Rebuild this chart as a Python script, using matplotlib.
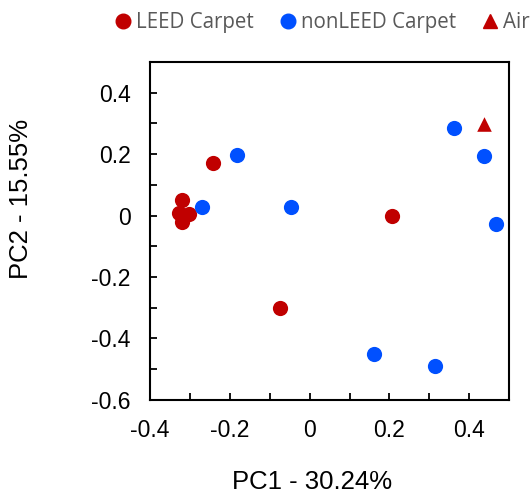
import matplotlib.pyplot as plt
from matplotlib.lines import Line2D

# PCA scores
leed_x = [-0.243, -0.321, -0.327, -0.302, -0.319, 0.207, -0.073]
leed_y = [0.172, 0.049, 0.009, 0.006, -0.022, -0.001, -0.301]

nonleed_x = [-0.269, -0.1825, -0.047, 0.363, 0.4375, 0.4675, 0.1625, 0.314]
nonleed_y = [0.027, 0.196, 0.027, 0.284, 0.195, -0.026, -0.452, -0.49]

air_x = [0.4375]
air_y = [0.299]

xticks = [-0.4, -0.2, 0, 0.2, 0.4]
yticks = [-0.6, -0.4, -0.2, 0, 0.2, 0.4]
xtick_labels = ['-0.4', '-0.2', '0', '0.2', '0.4']
ytick_labels = ['-0.6', '-0.4', '-0.2', '0', '0.2', '0.4']

red = '#C00000'
blue = '#0050FF'

plt.rcParams['font.family'] = ['Liberation Sans', 'DejaVu Sans']

fig = plt.figure(figsize=(5.32, 5.03), dpi=100)
ax = fig.add_axes([0.282, 0.205, 0.675, 0.672])

ax.scatter(leed_x, leed_y, s=120, c=red, linewidths=0, zorder=3)
ax.scatter(nonleed_x, nonleed_y, s=120, c=blue, linewidths=0, zorder=3)
ax.scatter(air_x, air_y, s=110, c=red, marker='^', linewidths=0, zorder=3)

ax.set_xlim(-0.4, 0.5)
ax.set_ylim(-0.6, 0.5)
ax.set_xticks(xticks)
ax.set_xticklabels(xtick_labels)
ax.set_yticks(yticks)
ax.set_yticklabels(ytick_labels)
ax.set_xticks([-0.3, -0.1, 0.1, 0.3], minor=True)
ax.set_yticks([-0.5, -0.3, -0.1, 0.1, 0.3], minor=True)
ax.tick_params(which='both', direction='in', length=5, width=1.3,
               labelsize=16.5, pad=14)
for sp in ax.spines.values():
    sp.set_linewidth(1.5)

ax.set_xlabel('PC1 - 30.24%', fontsize=18.5)
ax.set_ylabel('PC2 - 15.55%', fontsize=18.5)
ax.xaxis.set_label_coords(0.45, -0.208)
ax.yaxis.set_label_coords(-0.326, 0.595)

handles = [
    Line2D([], [], marker='o', color=red, linestyle='', markersize=10.5),
    Line2D([], [], marker='o', color=blue, linestyle='', markersize=10.5),
    Line2D([], [], marker='^', color=red, linestyle='', markersize=10.5),
]
fig.legend(handles, ['LEED Carpet', 'nonLEED Carpet', 'Air'], ncol=3,
           loc='center left', bbox_to_anchor=(0.2177, 0.955), frameon=False,
           borderpad=0, borderaxespad=0,
           handlelength=0.7, handletextpad=0.28, columnspacing=1.3,
           prop={'family': 'Open Sans', 'size': 14.8}, labelcolor='#595959')

fig.savefig('out.png', dpi=100)
